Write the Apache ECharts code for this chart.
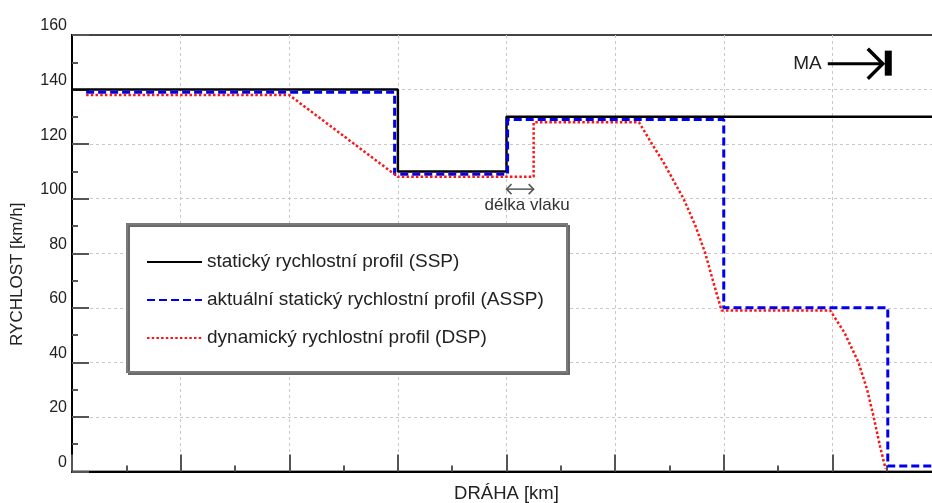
<!DOCTYPE html>
<html>
<head>
<meta charset="utf-8">
<script src="https://cdn.jsdelivr.net/npm/echarts@6/dist/echarts.min.js"></script>
<style>
  html, body { margin: 0; padding: 0; background: #fff; }
  #chart { width: 932px; height: 503px; }
</style>
</head>
<body>
<div id="chart"></div>
<script>
// Speed profiles along the track: [distance, speed km/h]
const seriesNames = [
  'statický rychlostní profil (SSP)',
  'aktuální statický rychlostní profil (ASSP)',
  'dynamický rychlostní profil (DSP)'
];
const sspPoints = [[0, 140], [3, 140], [3, 110], [4, 110], [4, 130], [8, 130]];
const asspPoints = [[0.13, 139], [2.97, 139], [2.97, 109], [4.01, 109], [4.01, 129], [6.0, 129],
  [6.0, 60], [7.51, 60], [7.51, 2], [8, 2]];
const dspPoints = [[0.13, 138], [2.0, 138], [3.0, 108], [4.25, 108], [4.25, 128], [5.22, 128],
  [5.34, 120], [5.45, 113], [5.56, 105], [5.63, 100], [5.74, 90], [5.83, 80], [5.90, 70], [5.98, 59],
  [6.98, 59], [7.11, 51], [7.24, 40], [7.32, 30], [7.38, 20], [7.44, 9], [7.49, 1]];

// Annotations
const maEnd = 7.51;          // end of movement authority
const maLevel = 149.5;
const trainFront = 4.0;      // train length shown between these distances
const trainRear = 4.25;
const trainLevel = 103.5;

const FONT = '"Liberation Sans", Arial, sans-serif';
const chart = echarts.init(document.getElementById('chart'), null, { renderer: 'canvas' });

const tickStyle = { color: '#555', width: 2 };
const gridLine = { show: true, showMinLine: false, showMaxLine: false,
  lineStyle: { color: '#c8c8c8', width: 1, type: [3, 3] } };

chart.setOption({
  animation: false,
  backgroundColor: '#fff',
  textStyle: { fontFamily: FONT },
  grid: {
    left: 72, right: -9, top: 35, bottom: 31.5,
    containLabel: false, outerBoundsMode: 'none',
    show: true, borderColor: '#444', borderWidth: 2, backgroundColor: 'transparent'
  },
  xAxis: {
    type: 'value', min: 0, max: 8, interval: 1,
    name: 'DRÁHA [km]', nameLocation: 'middle', nameGap: 13,
    nameTextStyle: { fontSize: 18.5, color: '#222', fontFamily: FONT },
    axisLine: { show: true, onZero: false, lineStyle: { color: '#000', width: 2 } },
    axisTick: { show: true, inside: true, length: 17, lineStyle: tickStyle },
    minorTick: { show: true, splitNumber: 2, length: 6, lineStyle: tickStyle },
    axisLabel: { show: false },
    splitLine: gridLine
  },
  yAxis: {
    type: 'value', min: 0, max: 160, interval: 20,
    name: 'RYCHLOST [km/h]', nameLocation: 'middle', nameGap: 46, nameRotate: 90,
    nameTextStyle: { fontSize: 17, color: '#222', fontFamily: FONT, padding: [0, 42, 0, 0] },
    axisLine: { show: true, onZero: false, lineStyle: { color: '#000', width: 2 } },
    axisTick: { show: true, inside: true, length: 17, lineStyle: tickStyle },
    minorTick: { show: true, splitNumber: 2, length: 6, lineStyle: tickStyle },
    axisLabel: { fontSize: 16, color: '#222', margin: 5, verticalAlign: 'bottom', lineHeight: 18, fontFamily: FONT },
    splitLine: gridLine
  },
  legend: {
    orient: 'vertical', left: 146, top: 252, padding: 0,
    itemWidth: 55, itemHeight: 16, itemGap: 18,
    selectedMode: false, z: 6,
    itemStyle: { color: 'transparent', borderWidth: 0, opacity: 0 },
    textStyle: { fontSize: 19, color: '#222', lineHeight: 20, fontFamily: FONT },
    data: seriesNames
  },
  series: [
    {
      name: seriesNames[0], type: 'line', data: sspPoints, symbol: 'none', z: 2,
      lineStyle: { color: '#000', width: 2.5, type: 'solid' }, itemStyle: { color: '#000' }
    },
    {
      name: seriesNames[1], type: 'line', data: asspPoints, symbol: 'none', z: 3,
      lineStyle: { color: '#0000ee', width: 3, type: [8, 4] }, itemStyle: { color: '#0000ee' }
    },
    {
      name: seriesNames[2], type: 'line', data: dspPoints, symbol: 'none', z: 4,
      lineStyle: { color: '#ff1414', width: 2.5, type: [2.5, 2.2] }, itemStyle: { color: '#ff1414' }
    }
  ]
});

// Annotation graphics positioned through the chart's own scales
const ma = chart.convertToPixel({ gridIndex: 0 }, [maEnd, maLevel]);
const tf = chart.convertToPixel({ gridIndex: 0 }, [trainFront, trainLevel]);
const tr = chart.convertToPixel({ gridIndex: 0 }, [trainRear, trainLevel]);
const tipX = ma[0] - 5;
const arrowY = tf[1];

chart.setOption({
  graphic: [
    // legend frame
    {
      type: 'rect', z: 5,
      shape: { x: 127, y: 224, width: 440, height: 148 },
      style: { fill: '#fff', stroke: '#7a7a7a', lineWidth: 2,
        shadowColor: '#6a6a6a', shadowOffsetX: 2, shadowOffsetY: 2, shadowBlur: 0 }
    },
    // movement authority marker
    {
      type: 'text', z: 6,
      style: { text: 'MA', x: ma[0] - 66, y: ma[1], align: 'right', verticalAlign: 'middle',
        fontSize: 19, fontFamily: FONT, fill: '#222' }
    },
    {
      type: 'line', z: 6,
      shape: { x1: ma[0] - 60, y1: ma[1], x2: tipX - 1, y2: ma[1] },
      style: { stroke: '#000', lineWidth: 3 }
    },
    {
      type: 'polyline', z: 6,
      shape: { points: [[tipX - 15, ma[1] - 15], [tipX, ma[1]], [tipX - 15, ma[1] + 15]] },
      style: { stroke: '#000', lineWidth: 3.5, fill: null }
    },
    {
      type: 'rect', z: 6,
      shape: { x: ma[0] - 3, y: ma[1] - 13, width: 7, height: 25 },
      style: { fill: '#000' }
    },
    // train length marker
    {
      type: 'line', z: 6,
      shape: { x1: tf[0], y1: arrowY, x2: tr[0], y2: arrowY },
      style: { stroke: '#555', lineWidth: 1.5 }
    },
    {
      type: 'polyline', z: 6,
      shape: { points: [[tf[0] + 5, arrowY - 5], [tf[0], arrowY], [tf[0] + 5, arrowY + 5]] },
      style: { stroke: '#555', lineWidth: 1.5, fill: null }
    },
    {
      type: 'polyline', z: 6,
      shape: { points: [[tr[0] - 5, arrowY - 5], [tr[0], arrowY], [tr[0] - 5, arrowY + 5]] },
      style: { stroke: '#555', lineWidth: 1.5, fill: null }
    },
    {
      type: 'text', z: 6,
      style: { text: 'délka vlaku', x: (tf[0] + tr[0]) / 2 + 7, y: arrowY + 16,
        align: 'center', verticalAlign: 'middle', fontSize: 17, fontFamily: FONT, fill: '#333' }
    }
  ]
});
</script>
</body>
</html>
